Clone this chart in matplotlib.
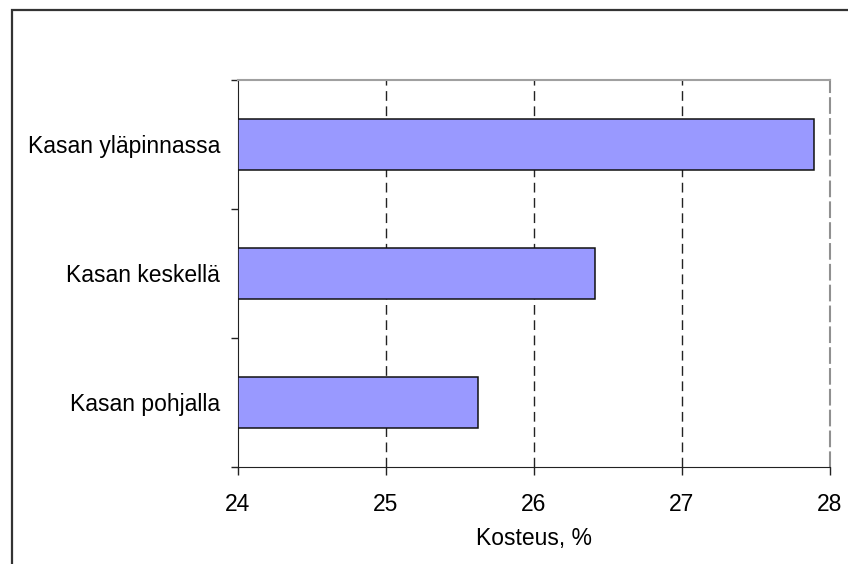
import matplotlib
matplotlib.use("Agg")
import matplotlib.pyplot as plt
from matplotlib.patches import Rectangle
from matplotlib.ticker import FixedLocator

categories = ["Kasan pohjalla", "Kasan keskellä", "Kasan yläpinnassa"]
values = [25.62, 26.41, 27.89]
x_ticks = [24, 25, 26, 27, 28]
x_label = "Kosteus, %"
x_min, x_max = 24, 28

plt.rcParams['font.family'] = ['Liberation Sans', 'DejaVu Sans']
FS = 16.5

fig = plt.figure(figsize=(8.48, 5.64), dpi=100)
# outer chart border (top and left visible)
fig.patches.append(Rectangle((12/848, -0.1), 1.2, 1 - 10/564 + 0.1,
                             transform=fig.transFigure, fill=False,
                             edgecolor="#333333", linewidth=1.6))

ax = fig.add_axes([238/848, (564-467)/564, 592/848, 387/564])
ypos = list(range(len(categories)))
ax.barh(ypos, [v - x_min for v in values], left=x_min, height=0.4,
        color="#9999FF", edgecolor="#111111", linewidth=1.1, zorder=3)

ax.set_xlim(x_min, x_max)
ax.set_ylim(-0.5, len(categories) - 0.5)
ax.set_xticks(x_ticks)
ax.set_xticklabels([str(t) for t in x_ticks], fontsize=FS)
ax.set_yticks(ypos)
ax.set_yticklabels(categories, fontsize=FS)
ax.yaxis.set_minor_locator(FixedLocator([-0.5, 0.5, 1.5, 2.5]))
ax.tick_params(axis='y', which='major', length=0, pad=13)
ax.tick_params(axis='y', which='minor', length=5, width=1, color="#222222")
ax.tick_params(axis='x', which='major', length=6, width=1, pad=12.5, color="#222222")

for t in x_ticks[1:-1]:
    ax.axvline(t, color="#222222", linewidth=1, linestyle=(0, (7, 4)), zorder=1)

ax.set_xlabel(x_label, fontsize=FS, labelpad=8.5)

ax.spines['left'].set_color("#222222")
ax.spines['bottom'].set_color("#222222")
ax.spines['top'].set_color("#a0a0a0")
ax.spines['top'].set_linewidth(1.5)
ax.spines['right'].set_color("#909090")
ax.spines['right'].set_linestyle((0, (7, 3)))
ax.spines['right'].set_linewidth(1.5)

fig.savefig("out.png", dpi=100)
